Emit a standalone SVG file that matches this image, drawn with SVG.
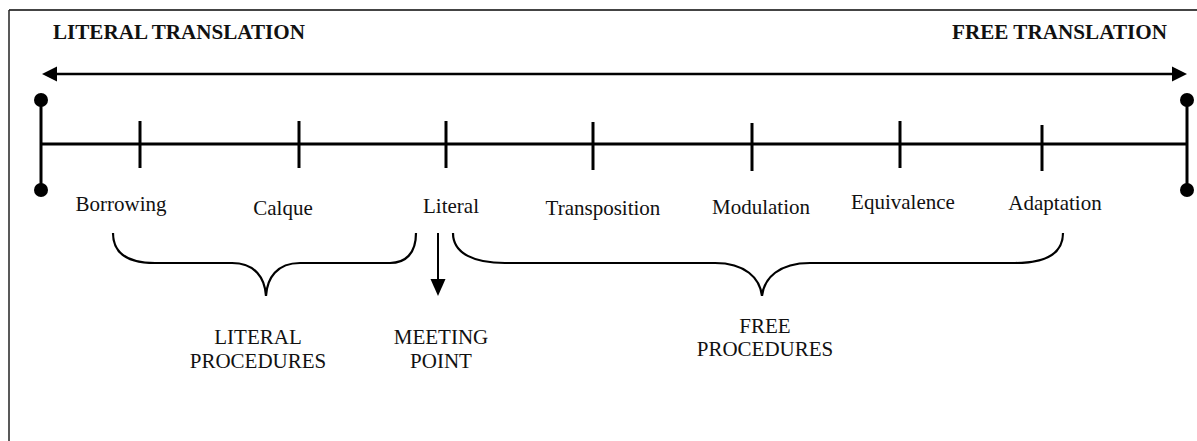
<svg xmlns="http://www.w3.org/2000/svg" width="1197" height="441" viewBox="0 0 1197 441">
<style>
.t{font-family:"Liberation Serif","Times New Roman",serif;font-size:21px;fill:#111;text-anchor:middle}
.b{font-family:"Liberation Serif","Times New Roman",serif;font-size:20px;font-weight:bold;fill:#111}
.k{stroke:#000;stroke-width:3;fill:none}
.br{stroke:#000;stroke-width:2.2;fill:none}
.head{fill:#000}
</style>
<rect width="1197" height="441" fill="#fff"/>
<g id="frame">
<line x1="9" y1="10" x2="1197" y2="10" stroke="#444" stroke-width="2"/>
<line x1="9" y1="10" x2="9" y2="441" stroke="#222" stroke-width="1.5"/>
</g>
<g id="titles">
<text class="b" x="53" y="39" textLength="252" lengthAdjust="spacingAndGlyphs">LITERAL TRANSLATION</text>
<text class="b" x="952" y="39" textLength="215" lengthAdjust="spacingAndGlyphs">FREE TRANSLATION</text>
</g>
<g id="connectors">
<line x1="54" y1="74" x2="1174" y2="74" stroke="#000" stroke-width="2.5"/>
<polygon class="head" points="42,74 57,66.5 57,81.5"/>
<polygon class="head" points="1187,74 1172,66.5 1172,81.5"/>
<line class="k" x1="41" y1="144" x2="1187" y2="144"/>
<line class="k" x1="41" y1="100" x2="41" y2="190"/>
<line class="k" x1="1187" y1="100" x2="1187" y2="190"/>
<circle cx="41" cy="100" r="7" fill="#000"/>
<circle cx="41" cy="190" r="7" fill="#000"/>
<circle cx="1187" cy="100" r="7" fill="#000"/>
<circle cx="1187" cy="190" r="7" fill="#000"/>
<line class="k" x1="140" y1="121" x2="140" y2="168"/>
<line class="k" x1="299" y1="121" x2="299" y2="168"/>
<line class="k" x1="446" y1="121" x2="446" y2="168"/>
<line class="k" x1="593" y1="122" x2="593" y2="170"/>
<line class="k" x1="752" y1="123" x2="752" y2="171"/>
<line class="k" x1="900" y1="121" x2="900" y2="168"/>
<line class="k" x1="1042" y1="125" x2="1042" y2="171"/>
<path class="br" d="M113,233 C113,254 128,263 155,263 L232,263 C255,263 265,278 266,296 C267,278 277,263 300,263 L390,263 C405,263 416,254 416,233"/>
<path class="br" d="M453,233 C453,254 475,263 505,263 L715,263 C745,263 760,278 762,296 C764,278 779,263 810,263 L1015,263 C1045,263 1063,254 1063,233"/>
<line x1="438" y1="233" x2="438" y2="282" stroke="#000" stroke-width="2"/>
<polygon class="head" points="438,296 430.5,279 445.5,279"/>
</g>
<g id="n-borrowing"><text class="t" x="121" y="211">Borrowing</text></g>
<g id="n-calque"><text class="t" x="283" y="215">Calque</text></g>
<g id="n-literal"><text class="t" x="451" y="213">Literal</text></g>
<g id="n-transposition"><text class="t" x="603" y="215">Transposition</text></g>
<g id="n-modulation"><text class="t" x="761" y="214">Modulation</text></g>
<g id="n-equivalence"><text class="t" x="903" y="209">Equivalence</text></g>
<g id="n-adaptation"><text class="t" x="1055" y="210">Adaptation</text></g>
<g id="n-literal-proc"><text class="t" x="258" y="344">LITERAL</text><text class="t" x="258" y="368">PROCEDURES</text></g>
<g id="n-meeting"><text class="t" x="441" y="344">MEETING</text><text class="t" x="441" y="368">POINT</text></g>
<g id="n-free-proc"><text class="t" x="765" y="333">FREE</text><text class="t" x="765" y="356">PROCEDURES</text></g>
</svg>
